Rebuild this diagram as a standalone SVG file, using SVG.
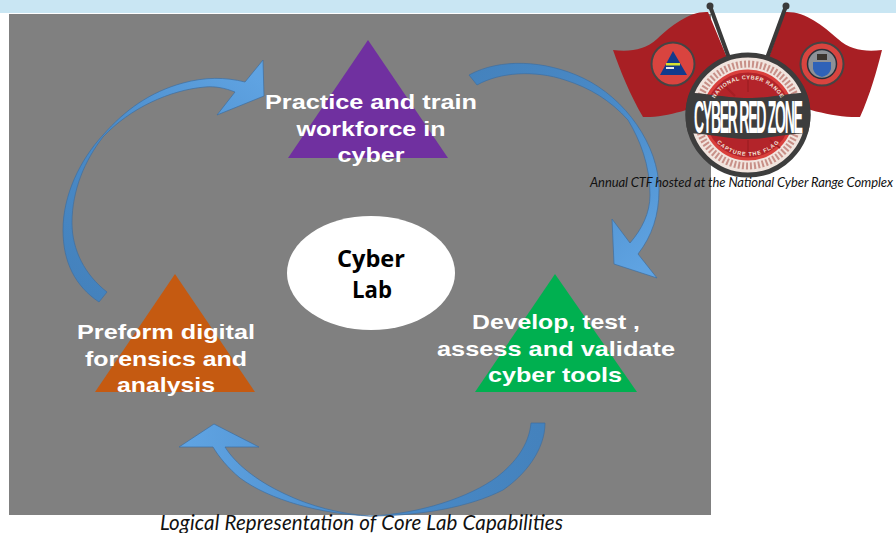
<svg xmlns="http://www.w3.org/2000/svg" width="896" height="533" viewBox="0 0 896 533">
<style>
.lbl{font-family:"Liberation Sans",Arial,sans-serif;font-weight:700;font-size:20.5px;fill:#fff;text-anchor:middle}
.ctr{font-family:"Open Sans","Liberation Sans",sans-serif;font-weight:700;font-size:23px;fill:#000;text-anchor:middle}
.cap{font-family:Lato,"Open Sans",sans-serif;font-style:italic;fill:#111}
.arc{stroke:#3f6f9f;stroke-width:.7}
.flag{fill:#a81f24}
.pole{stroke:#3a3a3a;stroke-width:4;stroke-linecap:round;fill:none}
.logo{font-family:"Liberation Sans",Arial,sans-serif;font-weight:700}
</style>
<defs>
<linearGradient id="g1" gradientUnits="userSpaceOnUse" x1="470" y1="70" x2="640" y2="270"><stop offset="0" stop-color="#4482bd"/><stop offset=".5" stop-color="#4a8bc9"/><stop offset="1" stop-color="#5fa3e2"/></linearGradient>
<linearGradient id="g2" gradientUnits="userSpaceOnUse" x1="100" y1="300" x2="260" y2="80"><stop offset="0" stop-color="#4482bd"/><stop offset=".5" stop-color="#4a8bc9"/><stop offset="1" stop-color="#5fa3e2"/></linearGradient>
<linearGradient id="g3" gradientUnits="userSpaceOnUse" x1="540" y1="430" x2="190" y2="440"><stop offset="0" stop-color="#4482bd"/><stop offset=".5" stop-color="#4a8bc9"/><stop offset="1" stop-color="#5fa3e2"/></linearGradient>
<clipPath id="disc"><circle cx="748" cy="115" r="62.5"/></clipPath>
<path id="arcTop" d="M712,105 A38,38 0 0 1 784,105"/>
<path id="arcBot" d="M712,128 A39,39 0 0 0 784,128"/>
</defs>
<rect width="896" height="533" fill="#fff"/>
<rect width="896" height="13" fill="#c9e6f3"/>
<rect x="9" y="14" width="702" height="501" fill="#808080"/>

<g id="connectors">
<path class="arc" fill="url(#g1)" d="M469,75 C500,58 545,60 583,78 C625,98 659,145 659,190 C659,215 652,236 638,254 L657,278 L614,264 L612,219 L630,243 C642,229 650,213 650,195 C650,165 640,140 628,120 C610,100 590,88 565,80 C535,70 500,72 477,85 Z"/>
<path class="arc" fill="url(#g3)" d="M531,423 L545,423 C545,450 525,475 503,490 C470,507 420,516 370,516 C320,514 270,500 240,478 C228,468 219,457 213,447 L179,447 L214,424 L259,447 L225,447 C235,463 255,480 285,494 C310,506 340,514 370,516 C420,514 470,497 497,477 C515,463 529,445 531,423 Z"/>
<path class="arc" fill="url(#g2)" d="M99,302 L107,292 C85,275 72,250 72,223 C72,190 85,160 103,137 C130,108 170,90 205,87 C215,86 225,88 235,92 L217,115 L264,96 L263,60 L245,82 C225,77 205,77 183,83 C150,92 125,110 103,135 C80,160 63,195 63,230 C63,262 75,286 99,302 Z"/>
</g>

<g id="node-practice">
<polygon points="368,40 448,158 288,158" fill="#7030a0"/>
<text class="lbl" x="371" y="109" textLength="212" lengthAdjust="spacingAndGlyphs">Practice and train</text>
<text class="lbl" x="371" y="136" textLength="149" lengthAdjust="spacingAndGlyphs">workforce in</text>
<text class="lbl" x="371" y="162" textLength="67" lengthAdjust="spacingAndGlyphs">cyber</text>
</g>
<g id="node-develop">
<polygon points="555,274 637,392 475,392" fill="#00b050"/>
<text class="lbl" x="556" y="329" textLength="168" lengthAdjust="spacingAndGlyphs">Develop, test ,</text>
<text class="lbl" x="556" y="356" textLength="238" lengthAdjust="spacingAndGlyphs">assess and validate</text>
<text class="lbl" x="555" y="382" textLength="134" lengthAdjust="spacingAndGlyphs">cyber tools</text>
</g>
<g id="node-forensics">
<polygon points="175,274 255,392 95,392" fill="#c55a11"/>
<text class="lbl" x="166" y="339" textLength="178" lengthAdjust="spacingAndGlyphs">Preform digital</text>
<text class="lbl" x="166" y="366" textLength="162" lengthAdjust="spacingAndGlyphs">forensics and</text>
<text class="lbl" x="166" y="392" textLength="98" lengthAdjust="spacingAndGlyphs">analysis</text>
</g>
<g id="node-lab">
<ellipse cx="371" cy="273" rx="84" ry="57" fill="#fff"/>
<text class="ctr" x="371" y="267" textLength="68" lengthAdjust="spacingAndGlyphs">Cyber</text>
<text class="ctr" x="372" y="298" textLength="40" lengthAdjust="spacingAndGlyphs">Lab</text>
</g>

<g id="logo">
<path class="flag" d="M613,50 C630,52 645,50 657,39 C672,25 690,11 708,12 L728,60 L715,100 C695,108 665,118 643,117 C630,95 620,70 613,50 Z"/>
<path class="flag" d="M882,50 C865,52 850,50 838,39 C822,25 805,11 785,12 L768,60 L780,100 C800,108 835,118 860,117 C870,95 877,70 882,50 Z"/>
<path class="pole" d="M710,6 L729,58 M786,6 L767,58"/>
<circle cx="710" cy="6" r="3.5" fill="#3a3a3a"/><circle cx="786" cy="6" r="3.5" fill="#3a3a3a"/>
<circle cx="673" cy="64" r="21.5" fill="#d9443f" stroke="#444" stroke-width="2"/>
<polygon points="673,51 687,75 660,75" fill="#123a8c"/>
<rect x="666" y="63" width="14" height="2.5" fill="#d8e030"/><rect x="666" y="67" width="8" height="2" fill="#e8e8e8"/>
<circle cx="822" cy="64" r="21.5" fill="#d9443f" stroke="#444" stroke-width="2"/>
<circle cx="822" cy="64" r="14.5" fill="#8d9197" stroke="#2b2f38" stroke-width="1.5"/>
<path d="M813,62 L831,62 L831,69 C829,75 825,76 822,77 C819,76 815,75 813,69 Z" fill="#2f62b8"/>
<rect x="817" y="54" width="10" height="6" fill="#3a342e"/>
<circle cx="748" cy="115" r="60" fill="#f1e4de" stroke="#3d3d3d" stroke-width="5"/>
<circle cx="748" cy="115" r="51" fill="none" stroke="#c89088" stroke-width="7" stroke-dasharray="2 2"/>
<circle cx="748" cy="115" r="44" fill="#b3242a" stroke="#d9403c" stroke-width="3"/>
<path d="M748,80 V92 M748,140 V155 M722,83 L735,96 M770,140 L780,148" stroke="#a41f24" stroke-width="2" fill="none"/>
<path clip-path="url(#disc)" d="M680,92 C710,93 725,98 748,98 C771,98 786,93 816,92 L816,133 C786,133 771,139 748,139 C725,139 710,133 680,133 Z" fill="#3d3d3d"/>
<text class="logo" transform="translate(694,133) scale(.3,1)" font-size="47" fill="#fff" textLength="363">CYBER RED ZONE</text>
<text class="logo" font-size="5.5" fill="#f3e4dc" letter-spacing=".5"><textPath href="#arcTop" startOffset="50%" text-anchor="middle">NATIONAL CYBER RANGE</textPath></text>
<text class="logo" font-size="5.5" fill="#f3e4dc" letter-spacing=".5" dominant-baseline="hanging"><textPath href="#arcBot" startOffset="50%" text-anchor="middle">CAPTURE THE FLAG</textPath></text>
</g>

<text class="cap" x="590" y="187" font-size="13" textLength="303">Annual CTF hosted at the National Cyber Range Complex</text>
<text class="cap" x="160" y="530" font-size="20.5" textLength="403">Logical Representation of Core Lab Capabilities</text>
</svg>
